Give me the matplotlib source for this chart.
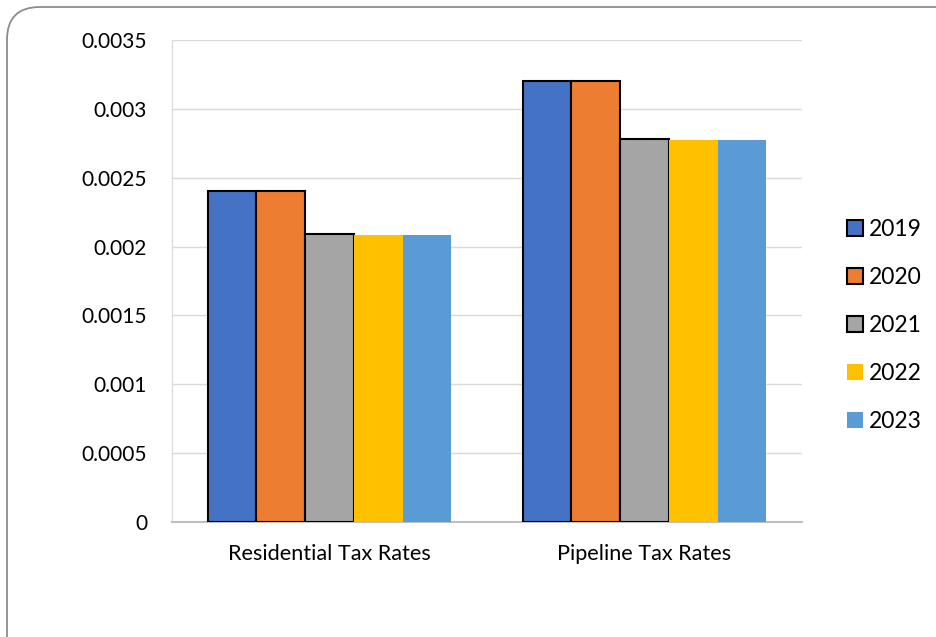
import matplotlib
matplotlib.use("Agg")
import matplotlib.pyplot as plt
from matplotlib.patches import FancyBboxPatch, Patch
import numpy as np

plt.rcParams['font.family'] = ['Lato', 'DejaVu Sans']

categories = ["Residential Tax Rates", "Pipeline Tax Rates"]
years = ["2019", "2020", "2021", "2022", "2023"]
values = {
    "2019": [0.0024, 0.0032],
    "2020": [0.0024, 0.0032],
    "2021": [0.00209, 0.002778],
    "2022": [0.002085, 0.002774],
    "2023": [0.002085, 0.002774],
}
colors = ["#4472C4", "#ED7D31", "#A5A5A5", "#FFC000", "#5B9BD5"]
edged = [True, True, True, False, False]

fig = plt.figure(figsize=(9.36, 6.37), dpi=100)
ax = fig.add_axes([172/936, 1-522/637, 630/936, 482/637])

# rounded chart border
border = FancyBboxPatch((7/936, -0.1), 1.2, 1.1 - 7/637,
                        boxstyle="round,pad=0,rounding_size=0.035",
                        transform=fig.transFigure, fill=False,
                        edgecolor="#8c8c8c", linewidth=1.3, zorder=0,
                        mutation_aspect=936/637)
fig.patches.append(border)

x = np.arange(len(categories))
w = 0.1545
handles = []
for i, y in enumerate(years):
    ec = "black" if edged[i] else "none"
    ax.bar(x + (i - 2) * w, values[y], width=w, color=colors[i],
           edgecolor=ec, linewidth=1.5 if edged[i] else 0, zorder=3)
    handles.append(Patch(facecolor=colors[i], edgecolor=ec,
                         linewidth=1.5 if edged[i] else 0, label=y))

ax.set_xlim(-0.5, 1.5)
ax.set_ylim(0, 0.0035)
ax.set_yticks([0, 0.0005, 0.001, 0.0015, 0.002, 0.0025, 0.003, 0.0035])
ax.set_yticklabels(["0", "0.0005", "0.001", "0.0015", "0.002", "0.0025", "0.003", "0.0035"])
ax.set_xticks(x)
ax.set_xticklabels(categories)
ax.tick_params(axis='y', length=0, pad=18, labelsize=15)
ax.tick_params(axis='x', length=0, pad=16, labelsize=15.6)
ax.grid(axis='y', color="#d9d9d9", linewidth=1, zorder=0)
ax.set_axisbelow(True)
for s in ["top", "right"]:
    ax.spines[s].set_visible(False)
ax.spines["left"].set_color("#d9d9d9")
ax.spines["bottom"].set_color("#bfbfbf")
ax.spines["bottom"].set_linewidth(1.5)

leg = fig.legend(handles=handles, loc="upper left",
                 bbox_to_anchor=(838/936, 1-210/637), frameon=False,
                 fontsize=16.5, handlelength=0.68, handleheight=0.68,
                 handletextpad=0.25, labelspacing=1.18, borderaxespad=0)

fig.savefig("out.png", dpi=100)
